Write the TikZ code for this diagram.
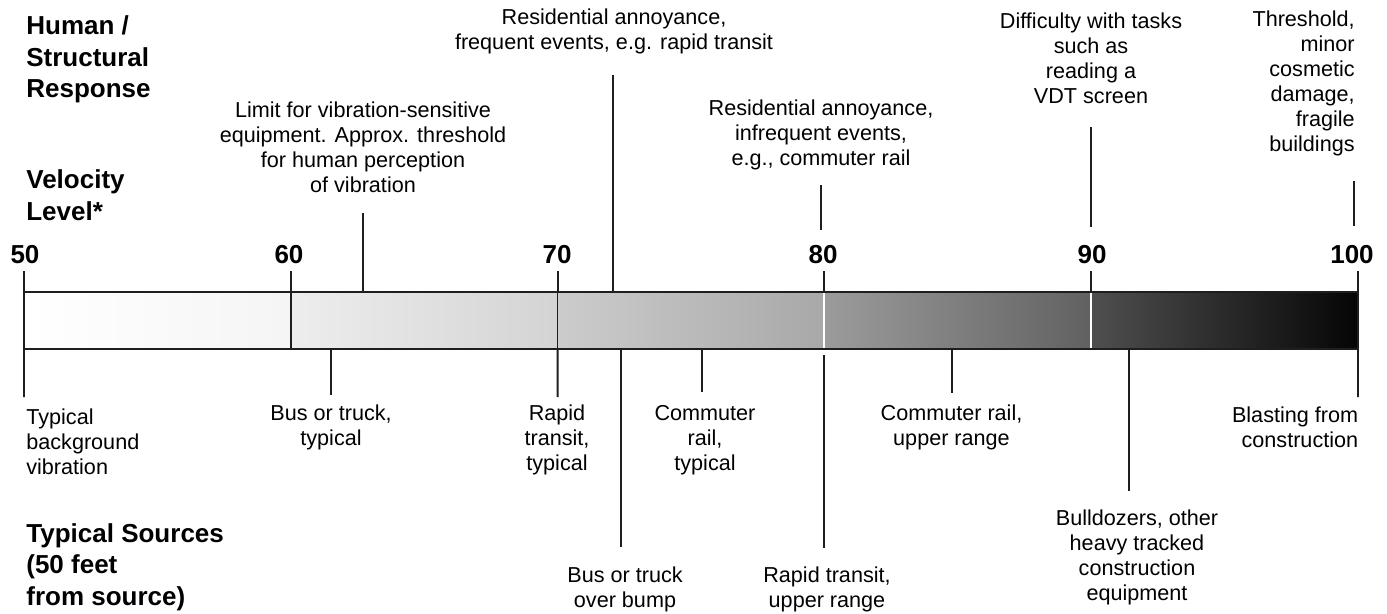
\documentclass[tikz,border=0pt]{standalone}
\usepackage{fontspec}
\setmainfont{Liberation Sans}
\definecolor{leadblack}{HTML}{1E1E1E}
\tikzset{
    axistitle/.style={
        font=\bfseries\fontsize{14.8}{18}\selectfont,
        align=left,
        anchor=west,
        inner sep=0pt
    },
    levelnum/.style={
        font=\bfseries\fontsize{14.8}{18}\selectfont,
        inner sep=0pt
    },
    responsetext/.style={
        font=\fontsize{12.3}{14.2}\selectfont,
        align=center,
        inner sep=0pt
    },
    sourcetext/.style={
        responsetext
    },
    barsegment/.style={
        draw=leadblack,
        line width=1pt,
        minimum width=5.336cm,
        minimum height=1.14cm,
        inner sep=0pt,
        outer sep=0pt
    },
    leadline/.style={
        draw=leadblack,
        line width=1.05pt
    },
    whitedivider/.style={
        draw=white,
        line width=1.2pt
    }
}

\begin{document}
\begin{tikzpicture}
    \useasboundingbox (0,0) rectangle (27.74,-12.26);

    % axis titles
    \node[axistitle] (response) at (0.52,-1.19) {Human /\\Structural\\Response};
    \node[axistitle] (velocity) at (0.52,-3.90) {Velocity\\Level*};
    \node[axistitle] (sources) at (0.52,-11.34) {Typical Sources\\(50 feet\\from source)};

    % the velocity bar
    \node[barsegment, left color=white, right color=black!4] (seg50) at (3.148,-6.41) {};
    \node[barsegment, left color=black!7, right color=black!17] (seg60) at (8.484,-6.41) {};
    \node[barsegment, left color=black!20, right color=black!34] (seg70) at (13.820,-6.41) {};
    \node[barsegment, left color=black!39, right color=black!62] (seg80) at (19.156,-6.41) {};
    \node[barsegment, left color=black!69, right color=black!98] (seg90) at (24.492,-6.41) {};
    \draw[whitedivider] ([yshift=-0.5pt]seg80.north west) -- ([yshift=0.5pt]seg80.south west);
    \draw[whitedivider] ([yshift=-0.5pt]seg90.north west) -- ([yshift=0.5pt]seg90.south west);

    % level numbers and ticks
    \node[levelnum] (lvl50) at (0.50,-5.10) {50};
    \node[levelnum] (lvl60) at (5.78,-5.10) {60};
    \node[levelnum] (lvl70) at (11.14,-5.10) {70};
    \node[levelnum] (lvl80) at (16.46,-5.10) {80};
    \node[levelnum] (lvl90) at (21.84,-5.10) {90};
    \node[levelnum] (lvl100) at (27.04,-5.10) {100};

    \draw[leadline, shorten >=0.12cm] (seg50.north west) -- (seg50.north west |- lvl50.south);
    \draw[leadline, shorten >=0.12cm] (seg60.north west) -- (seg60.north west |- lvl60.south);
    \draw[leadline, shorten >=0.12cm] (seg70.north west) -- (seg70.north west |- lvl70.south);
    \draw[leadline, shorten >=0.12cm] (seg80.north west) -- (seg80.north west |- lvl80.south);
    \draw[leadline, shorten >=0.12cm] (seg90.north west) -- (seg90.north west |- lvl90.south);
    \draw[leadline, shorten >=0.12cm] (seg90.north east) -- (seg90.north east |- lvl100.south);

    % human / structural response
    \node[responsetext] (limit) at (7.26,-2.95)
        {Limit for vibration-sensitive\\equipment. Approx. threshold\\for human perception\\of vibration};
    \node[responsetext] (frequent) at (12.28,-0.62)
        {Residential annoyance,\\frequent events, e.g. rapid transit};
    \node[responsetext] (infrequent) at (16.42,-2.70)
        {Residential annoyance,\\infrequent events,\\e.g., commuter rail};
    \node[responsetext] (difficulty) at (21.82,-1.17)
        {Difficulty with tasks\\such as\\reading a\\VDT screen};
    \node[responsetext, align=right, anchor=east] (threshold) at (27.10,-1.67)
        {Threshold,\\minor\\cosmetic\\damage,\\fragile\\buildings};

    \coordinate (limitbar) at (7.26,-5.84);
    \coordinate (limittip) at (7.26,-4.26);
    \coordinate (frequentbar) at (12.26,-5.84);
    \coordinate (frequenttip) at (12.26,-1.50);
    \coordinate (infrequenttip) at (16.42,-3.70);
    \coordinate (infrequentend) at (16.42,-4.60);
    \coordinate (difficultytip) at (21.82,-2.54);
    \coordinate (difficultyend) at (21.82,-4.54);
    \coordinate (thresholdtip) at (27.08,-3.62);
    \coordinate (thresholdend) at (27.08,-4.52);

    \draw[leadline] (limitbar) -- (limittip);
    \draw[leadline] (frequentbar) -- (frequenttip);
    \draw[leadline] (infrequenttip) -- (infrequentend);
    \draw[leadline] (difficultytip) -- (difficultyend);
    \draw[leadline] (thresholdtip) -- (thresholdend);

    % typical sources
    \node[sourcetext, align=left, anchor=west] (background) at (0.52,-8.84)
        {Typical\\background\\vibration};
    \node[sourcetext] (bus) at (6.62,-8.55) {Bus or truck,\\typical};
    \node[sourcetext] (rapid) at (11.14,-8.80) {Rapid\\transit,\\typical};
    \node[sourcetext] (bump) at (12.50,-11.79) {Bus or truck\\over bump};
    \node[sourcetext] (commuter) at (14.10,-8.80) {Commuter\\rail,\\typical};
    \node[sourcetext] (rapidupper) at (16.54,-11.79) {Rapid transit,\\upper range};
    \node[sourcetext] (commuterupper) at (19.03,-8.55) {Commuter rail,\\upper range};
    \node[sourcetext] (bulldozer) at (22.74,-11.15)
        {Bulldozers, other\\heavy tracked\\construction\\equipment};
    \node[sourcetext, align=right, anchor=east] (blasting) at (27.17,-8.55)
        {Blasting from\\construction};

    \coordinate (backgroundtip) at (0.48,-7.94);
    \coordinate (busbar) at (6.62,-6.98);
    \coordinate (bustip) at (6.62,-7.90);
    \coordinate (rapidtip) at (11.152,-7.94);
    \coordinate (bumpbar) at (12.42,-6.98);
    \coordinate (bumptip) at (12.42,-10.94);
    \coordinate (commuterbar) at (14.04,-6.98);
    \coordinate (commutertip) at (14.04,-7.84);
    \coordinate (rapidupperbar) at (16.488,-7.10);
    \coordinate (rapiduppertip) at (16.488,-10.96);
    \coordinate (commuterupperbar) at (19.04,-6.98);
    \coordinate (commuteruppertip) at (19.04,-7.86);
    \coordinate (bulldozerbar) at (22.58,-6.98);
    \coordinate (bulldozertip) at (22.58,-9.82);
    \coordinate (blastingtip) at (27.16,-7.94);

    \draw[leadline] (seg50.south west) -- (backgroundtip);
    \draw[leadline] (busbar) -- (bustip);
    \draw[leadline] (seg70.south west) -- (rapidtip);
    \draw[leadline] (bumpbar) -- (bumptip);
    \draw[leadline] (commuterbar) -- (commutertip);
    \draw[leadline] (rapidupperbar) -- (rapiduppertip);
    \draw[leadline] (commuterupperbar) -- (commuteruppertip);
    \draw[leadline] (bulldozerbar) -- (bulldozertip);
    \draw[leadline] (seg90.south east) -- (blastingtip);
\end{tikzpicture}
\end{document}
